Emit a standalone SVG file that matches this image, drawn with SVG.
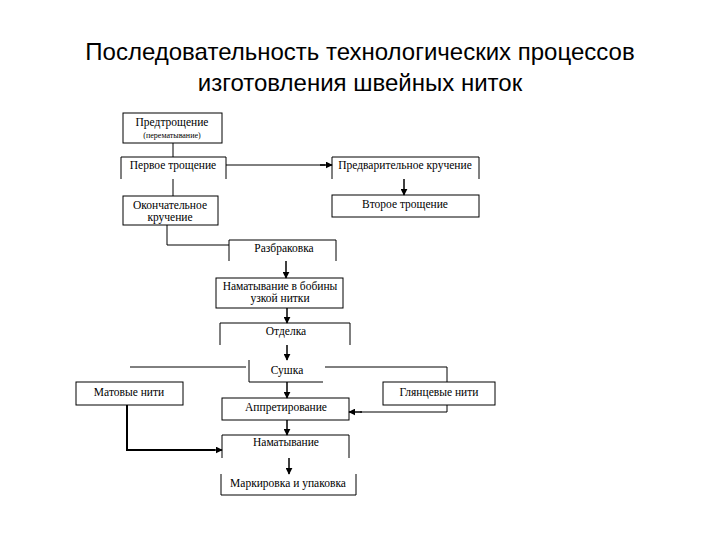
<svg xmlns="http://www.w3.org/2000/svg" width="720" height="540" viewBox="0 0 720 540">
<defs>
<marker id="ah" viewBox="0 0 10 10" refX="9" refY="5" markerWidth="7" markerHeight="7" markerUnits="userSpaceOnUse" orient="auto"><path d="M0,0 L10,5 L0,10 z" fill="#000"/></marker>
</defs>
<style>
.t{font-family:"Liberation Sans",Arial,sans-serif;font-size:24px;fill:#000;text-anchor:middle}
.n{font-family:"Liberation Serif","Times New Roman",serif;font-size:11.5px;fill:#000;text-anchor:middle}
.s{font-family:"Liberation Serif","Times New Roman",serif;font-size:8px;fill:#000;text-anchor:middle}
.b{fill:none;stroke:#000;stroke-width:1}
.w{fill:#fff;stroke:#000;stroke-width:1}
.c{fill:none;stroke:#000;stroke-width:1}
.k{fill:none;stroke:#000;stroke-width:2}
.a{fill:none;stroke:#000;stroke-width:1.5;marker-end:url(#ah)}
</style>
<rect width="720" height="540" fill="#fff"/>
<g id="title">
<text class="t" x="360" y="60">Последовательность технологических процессов</text>
<text class="t" x="360" y="91">изготовления швейных ниток</text>
</g>
<g id="connectors">
<path class="c" d="M173,143 V157"/>
<path class="c" d="M173,179 V196"/>
<path class="c" d="M226,165 H325"/>
<path class="a" d="M320,165 H332"/>
<path class="a" d="M404,179 V195"/>
<path class="c" d="M167,225 V245 H229"/>
<path class="a" d="M286,261 V278"/>
<path class="a" d="M287,308 V323"/>
<path class="a" d="M287,345 V360"/>
<path class="c" d="M130,367 H246"/>
<path class="c" d="M325,367 H447 V412 H360"/>
<path class="a" d="M362,412 H349"/>
<path class="a" d="M287,382 V398"/>
<path class="a" d="M287,420 V435"/>
<path class="k" d="M127,405 V450 H215"/>
<path class="a" d="M210,450 H222"/>
<path class="a" d="M289,458 V474"/>
</g>
<g id="n1"><rect class="b" x="123" y="113" width="99" height="30"/><text class="n" x="172" y="126">Предтрощение</text><text class="s" x="172" y="138">(перематывание)</text></g>
<g id="n2"><path class="b" d="M121,179 V157 H226 V179"/><text class="n" x="173" y="169">Первое трощение</text></g>
<g id="n3"><rect class="b" x="123" y="196" width="95" height="29"/><text class="n" x="170" y="209">Окончательное</text><text class="n" x="170" y="221">кручение</text></g>
<g id="n4"><path class="b" d="M332,179 V157 H479 V179"/><text class="n" x="405" y="169">Предварительное кручение</text></g>
<g id="n5"><rect class="b" x="332" y="195" width="147" height="22"/><text class="n" x="405" y="208">Второе трощение</text></g>
<g id="n6"><path class="b" d="M229,261 V240 H336 V261"/><text class="n" x="284" y="252">Разбраковка</text></g>
<g id="n7"><rect class="b" x="216" y="278" width="127" height="30"/><text class="n" x="280" y="290">Наматывание в бобины</text><text class="n" x="280" y="302">узкой нитки</text></g>
<g id="n8"><path class="b" d="M220,345 V323 H350 V345"/><text class="n" x="286" y="335">Отделка</text></g>
<g id="n9"><path class="b" d="M249,360 V382 H323"/><text class="n" x="287" y="374">Сушка</text></g>
<g id="n10"><rect class="b" x="76" y="382" width="107" height="23"/><text class="n" x="129" y="396">Матовые нити</text></g>
<g id="n11"><rect class="w" x="383" y="382" width="112" height="23"/><text class="n" x="439" y="396">Глянцевые нити</text></g>
<g id="n12"><rect class="b" x="222" y="398" width="127" height="22"/><text class="n" x="286" y="411">Аппретирование</text></g>
<g id="n13"><path class="b" d="M222,458 V435 H349 V458"/><text class="n" x="286" y="446">Наматывание</text></g>
<g id="n14"><path class="b" d="M221,474 V495 H356 V474"/><text class="n" x="288" y="487">Маркировка и упаковка</text></g>
</svg>
